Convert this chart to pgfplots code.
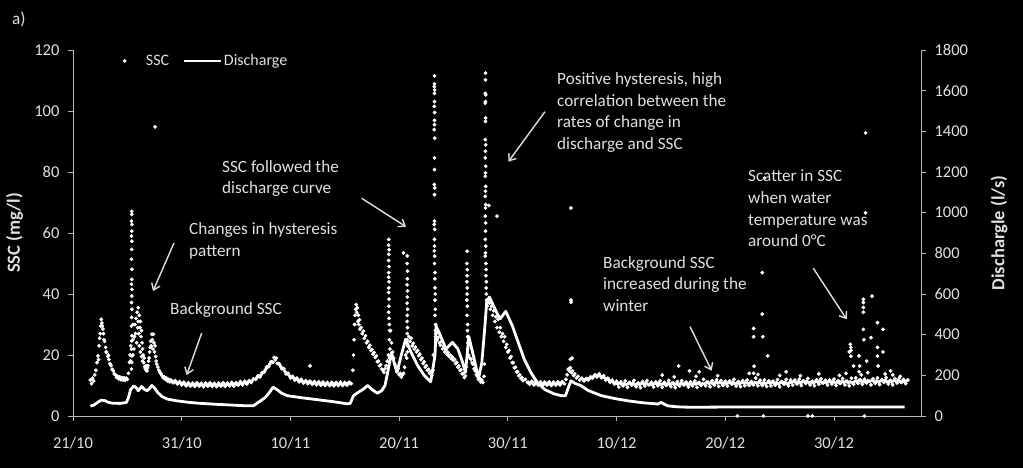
\documentclass[border=0pt]{standalone}
\usepackage{pgfplots}
\pgfplotsset{compat=1.18}
\usepackage{fontspec}
\setmainfont{Carlito}
\usetikzlibrary{arrows.meta}
\definecolor{txt}{gray}{0.88}
\definecolor{axc}{gray}{0.72}
\pgfplotsset{
 mylineleg/.style={legend image code/.code={\draw[##1] (0pt,0pt) -- (37pt,0pt);}},
 mymarkleg/.style={legend image code/.code={\fill[##1] (0pt,0pt) circle (1.7pt); \path (-1.7pt,0pt) (19pt,0pt);}},
}
\begin{document}
\begin{tikzpicture}
\fill[black] (-73pt,-52pt) rectangle (950pt,416pt);
\pgfplotsset{
 every axis/.append style={
  scale only axis, width=848pt, height=366pt, at={(0pt,0pt)}, anchor=south west,
  xmin=0, xmax=78, clip=false,
  tick label style={font=\fontsize{16.5}{18}\selectfont, text=txt},
  /pgf/number format/assume math mode=true,
  /pgf/number format/1000 sep={},
  axis line style={axc, line width=0.8pt},
  tick style={axc, line width=0.8pt},
  tick align=outside,
  major tick length=5pt,
  xticklabel shift=13pt, yticklabel shift=5pt,
  label style={font=\bfseries\fontsize{18.5}{20}\selectfont, text=txt},
 }
}
\begin{axis}[
  axis x line*=bottom, axis y line*=left,
  ymin=0, ymax=120, ytick={0,20,...,120},
  xtick={0,10,...,70}, xticklabels={21/10,31/10,10/11,20/11,30/11,10/12,20/12,30/12},
  ylabel={SSC (mg/l)}, ylabel style={at={(axis description cs:-0.069,0.5)}, anchor=center},
]
\addplot[only marks, mark=*, mark size=1.7pt, white, mark options={draw=none, fill=white}] coordinates {
(1.6,11.8)(1.7,10.6)(1.8,12.4)(1.9,11.5)(2.0,13.5)(2.1,15.0)(2.2,17.5)(2.3,19.7)(2.4,23)(2.5,27)(2.55,29.5)(2.6,31.7)(2.65,30.5)(2.7,29.5)(2.8,27)(2.9,24.5)(3.0,22.5)(3.1,21)(3.2,19.5)(3.3,18.5)(3.4,17.2)(3.5,16.5)(3.6,15.3)(3.7,14.8)(3.8,13.8)(3.9,13.5)(4.0,12.7)(4.1,13.0)(4.2,12.2)(4.3,12.8)(4.4,11.9)(4.5,12.6)(4.6,11.8)(4.7,12.5)(4.8,11.7)(4.9,12.4)(5.0,12.0)(5.1,14.0)(5.2,17.6)(5.25,20)
(2.35,18.5)(2.45,25.5)(2.75,28.5)(2.85,25)(3.05,21)(3.25,20)(3.45,16.8)
(5.4,67.1)(5.4,66.1)(5.38,63.9)(5.42,62.8)(5.4,60.6)(5.38,59.0)(5.42,57.3)(5.4,54.6)(5.38,51.4)(5.42,48.1)(5.4,44.8)(5.38,43.2)(5.42,41.5)(5.4,39.3)(5.38,37.2)(5.42,35.0)(5.4,32.3)(5.38,29.5)(5.42,26.3)(5.4,24.6)(5.38,21.9)(5.42,19.7)(5.4,17.6)(5.38,15.4)(5.3,18)(5.32,23)(5.5,20)(5.5,25)(5.52,30)
(5.6,22)(5.65,26)(5.7,30)(5.75,27)(5.8,32)(5.85,24)(5.9,34)(5.95,29)(6.0,35.5)(6.0,31)(6.05,27)(6.1,33)(6.1,23)(6.15,29)(6.2,31)(6.2,21)(6.25,26)(6.3,28)(6.3,19.5)(6.35,24)(6.4,22)(6.4,18)(6.45,20)(6.5,17.5)(6.55,19)(6.6,16.2)(6.65,15.5)(6.7,16.5)(6.75,15)(6.8,14.8)(6.85,15.8)(6.9,16.5)(6.95,18)(7.0,19)(7.05,21)(7.1,22.5)(7.15,24.5)(7.2,23)(7.25,26.8)(7.3,25)(7.35,22)(7.4,26.8)(7.45,24)(7.5,21)(7.55,23)(7.6,19.5)(7.65,18)(7.7,17)(7.8,16)(7.9,15)(8.0,14.3)(8.1,13.8)(8.2,13.2)(8.3,12.5)(8.4,12.8)(8.5,12.0)(8.6,12.4)(8.7,11.5)(8.8,12.0)(8.9,11.2)(9.0,11.8)
(7.55,94.8)
(9.2,10.9)(9.4,11.6)(9.6,10.5)(9.8,11.3)(10.0,10.2)(10.2,11.1)(10.4,9.9)(10.6,10.9)(10.8,9.8)(11.0,10.8)(11.2,9.7)(11.4,10.9)(11.6,9.8)(11.8,10.7)(12.0,9.6)(12.2,10.8)(12.4,9.8)(12.6,10.9)(12.8,9.7)(13.0,10.7)(13.2,9.6)(13.4,10.8)(13.6,9.8)(13.8,10.9)(14.0,9.7)(14.2,10.8)(14.4,9.9)(14.6,11.0)(14.8,9.8)(15.0,10.9)(15.2,10.1)(15.4,11.3)(15.6,10.2)(15.8,11.4)(16.0,10.5)(16.2,11.6)(16.4,11.0)(16.6,12.2)
(9.1,11.4)(9.3,11.2)(9.5,11.0)(9.7,10.9)(9.9,10.7)(10.1,10.6)(10.3,10.5)(10.5,10.3)(10.7,10.4)(10.9,10.2)(11.1,10.3)(11.3,10.2)(11.5,10.4)(11.7,10.2)(11.9,10.3)(12.1,10.1)(12.3,10.3)(12.5,10.2)(12.7,10.4)(12.9,10.2)(13.1,10.3)(13.3,10.1)(13.5,10.3)(13.7,10.2)(13.9,10.4)(14.1,10.2)(14.3,10.3)(14.5,10.4)(14.7,10.3)(14.9,10.5)(15.1,10.4)(15.3,10.6)(15.5,10.7)(15.7,10.8)(15.9,10.9)(16.1,11.0)(16.3,11.3)(16.5,11.6)
(16.8,12.0)(17.0,13.2)(17.2,12.8)(17.4,14.2)(17.6,14.5)(17.8,16.0)(18.0,16.2)(18.2,17.8)(18.4,17.6)(18.5,19.2)(18.6,18.4)(18.7,19.0)(18.8,17.2)(19.0,17.0)(19.2,15.5)(19.4,15.5)(19.6,13.8)(19.8,14.0)(20.0,12.5)(20.2,13.0)(20.4,11.8)(20.6,12.4)(20.8,11.2)(21.0,12.0)(21.2,10.8)(21.4,11.6)(21.6,10.6)(21.8,11.4)(22.0,10.4)(22.2,11.3)(22.4,10.2)(22.6,11.2)(22.8,10.1)(23.0,11.1)(23.2,10.0)(23.4,11.0)(23.6,10.0)(23.8,11.0)(24.0,9.9)(24.2,11.0)(24.4,10.0)(24.6,11.1)(24.8,10.0)(25.0,11.0)(25.2,10.1)(25.4,11.1)(25.6,10.6)
(16.9,12.6)(17.1,13.0)(17.3,13.5)(17.5,14.3)(17.7,15.2)(17.9,16.1)(18.1,17.0)(18.3,17.8)(18.9,17.2)(19.1,16.2)(19.3,15.5)(19.5,14.6)(19.7,13.9)(19.9,13.2)(20.1,12.7)(20.3,12.4)(20.5,12.1)(20.7,11.8)
(20.9,11.7)(21.1,11.4)(21.3,11.2)(21.5,11.1)(21.7,11.0)(21.9,10.9)(22.1,10.8)(22.3,10.7)(22.5,10.7)(22.7,10.6)(22.9,10.6)(23.1,10.5)(23.3,10.5)(23.5,10.5)(23.7,10.4)(23.9,10.5)(24.1,10.4)(24.3,10.5)(24.5,10.6)(24.7,10.5)(24.9,10.5)(25.1,10.6)(25.3,10.6)(25.5,10.7)
(21.8,16.4)
(25.75,15)(25.8,20)(25.85,25)(25.9,30)(25.95,33)(26.0,35)(26.05,36.5)(26.1,34)(26.15,35.5)(26.2,31)(26.25,33)(26.3,30)(26.35,31.5)(26.4,28.5)(26.5,29)(26.6,27)(26.7,27.8)(26.8,25.5)(26.9,26.3)(27.0,24)(27.1,24.5)(27.2,22.5)(27.3,23.2)(27.4,21.5)(27.5,21.8)(27.6,20.3)(27.7,20.8)(27.8,19.2)(27.9,19.7)(28.0,17.8)(28.1,18.0)(28.2,16.5)(28.3,16.8)(28.4,15.4)(28.5,15.0)(28.6,14.3)(28.7,15.5)(28.8,16.5)(28.9,18)(29.0,20)
(29.05,57.9)(29.03,56)(29.07,54.5)(29.05,53)(29.03,51)(29.07,49)(29.05,47)(29.03,45.5)(29.07,44)(29.05,42)(29.03,40.5)(29.07,38.3)(29.05,36)(29.03,34)(29.07,32)(29.1,30)(29.12,28)(29.1,25)(29.15,22)(29.1,19)
(29.2,28)(29.3,24)(29.4,21)(29.5,19)(29.6,17)(29.7,16)(29.8,14.5)(29.9,15.5)(30.0,13.5)(30.1,14)(30.2,12.8)(30.3,13.5)(30.4,14)(30.5,16)(30.6,20)
(30.4,53.5)
(30.75,52.5)(30.73,50)(30.77,47.5)(30.75,45)(30.73,43)(30.77,41)(30.75,39)(30.73,37)(30.77,35)(30.75,33)(30.73,31)(30.77,29)(30.75,27)(30.73,25)(30.77,23)(30.75,21)(30.7,19)
(30.9,26)(31.0,24.5)(31.1,25.5)(31.2,23)(31.3,23.8)(31.4,22)(31.5,22.6)(31.6,21)(31.7,21.5)(31.8,19.8)(31.9,20.3)(32.0,18.5)(32.1,19)(32.2,17.2)(32.3,17.8)(32.4,16)(32.5,16.5)(32.6,15)(32.7,15.3)(32.8,14)(32.9,14.4)(33.0,13.2)(33.1,15)(33.15,20)
(33.25,111.5)(33.25,108.9)(33.23,108.0)(33.27,106.9)(33.25,105.8)(33.25,103.1)(33.23,101.5)(33.27,99.5)(33.25,96.9)(33.25,95.5)(33.23,93.9)(33.27,91.1)(33.25,84.6)(33.25,80.8)(33.23,75.9)(33.27,74.8)(33.25,72.6)(33.25,63.9)(33.23,62.8)(33.27,61.2)(33.25,57.9)(33.25,55.7)(33.23,54.1)(33.27,52.4)(33.25,50)(33.3,47)(33.28,45)(33.3,42)(33.32,40)(33.3,38)(33.32,35)(33.3,33)(33.35,30)(33.33,28)(33.35,26)
(33.4,27)(33.5,25)(33.6,25.8)(33.7,24)(33.8,23.2)(33.9,24.5)(34.0,22)(34.1,22.8)(34.2,21)(34.3,21.6)(34.4,20.2)(34.5,20.8)(34.6,19.5)(34.7,20)(34.8,18.8)(34.9,19.3)(35.0,18.2)(35.1,18.6)(35.2,17.2)(35.3,17.6)(35.4,16)(35.5,16.4)(35.6,15)(35.7,15.2)(35.8,13.8)(35.9,14)(36.0,12.6)(36.1,13.2)(36.15,16)
(36.25,54)(36.23,50)(36.27,48)(36.25,46)(36.23,44)(36.27,42)(36.25,40)(36.23,38)(36.27,36)(36.25,33)(36.3,30)(36.28,28)(36.3,26)(36.32,24)(36.3,22)(36.35,20)
(36.4,20)(36.5,19)(36.6,18.6)(36.7,17.5)(36.8,17)(36.9,15.5)(37.0,14.8)(37.1,13.5)(37.2,13)(37.3,12)(37.4,12.3)(37.5,11.2)(37.6,11.8)(37.7,11)(37.8,13)(37.85,17)
(37.94,112.4)(37.94,110.2)(37.92,105.8)(37.96,105.3)(37.94,103.1)(37.92,102.6)(37.96,97.7)(37.94,96.6)(37.92,90.6)(37.96,88.9)(37.94,86.8)(37.92,84.6)(37.96,81.9)(37.94,79.7)(37.92,78.6)(37.96,75.3)(37.94,73.7)(37.92,72.0)(37.96,69.3)(37.94,68.2)(37.92,65.5)(37.96,63.3)(37.94,60.6)(37.92,57.9)(37.96,55.7)(37.94,53.5)(37.92,52.4)(37.98,50)(38.0,48)(37.98,46)(38.02,44)(38.0,42)(38.02,40)(38.04,38)
(38.25,69)(39.0,65.5)
(38.1,36)(38.2,38)(38.3,37)(38.4,35)(38.5,36)(38.6,33)(38.7,34.5)(38.8,31)(38.9,32.5)(39.0,29)(39.1,31.7)(39.2,27.5)(39.3,29)(39.4,26)(39.5,27)(39.6,24.5)(39.7,26)(39.8,22.5)(39.9,23.5)(40.0,21)(40.1,21.5)(40.2,19)(40.3,19.5)(40.4,17.5)(40.5,17.5)(40.6,15.8)(40.7,16)(40.8,14.5)(40.9,14.5)(41.0,13.2)(41.1,13.5)(41.2,12.3)(41.3,12.6)(41.4,11.6)(41.6,12.0)(41.8,11.0)
(42.0,10.4)(42.2,11.4)(42.4,10.2)(42.6,11.3)(42.8,10.1)(43.0,11.2)(43.2,10.0)(43.4,11.1)(43.6,10.1)(43.8,11.2)(44.0,10.0)(44.2,11.1)(44.4,10.1)(44.6,11.2)(44.8,10.2)(45.0,11.3)(45.2,10.6)(45.35,12)(45.45,13.5)(45.55,15.4)(45.65,14.8)(45.75,15.8)(45.85,14.2)(45.95,14.8)(46.05,13.3)(46.15,13.8)(46.3,12.5)(46.45,13.0)(46.6,11.8)(46.8,12.4)(47.0,11.5)(47.2,12.3)(47.4,11.8)(47.6,12.8)(47.8,12.5)(48.0,13.5)(48.2,12.8)(48.4,13.8)(48.6,12.5)(48.8,13.2)(49.0,11.8)(49.2,12.4)(49.4,11.0)(49.6,11.8)(49.8,10.5)(50.0,11.4)
(41.9,11.0)(42.1,10.9)(42.3,10.8)(42.5,10.7)(42.7,10.7)(42.9,10.6)(43.1,10.6)(43.3,10.6)(43.5,10.6)(43.7,10.6)(43.9,10.6)(44.1,10.6)(44.3,10.6)(44.5,10.6)(44.7,10.7)(44.9,10.7)(45.1,10.8)
(46.9,12.0)(47.1,11.9)(47.3,12.1)(47.5,12.3)(47.7,12.6)(47.9,13.0)(48.1,13.2)(48.3,13.3)(48.5,13.1)(48.7,12.8)(48.9,12.5)(49.1,12.1)(49.3,11.7)(49.5,11.4)(49.7,11.1)(49.9,10.8)
(45.8,68.2)(45.8,38)(45.82,37.3)(45.75,18.6)(45.9,19)
(50.2,9.5)(50.4,11.2)(50.6,9.9)(50.8,11.5)(51.0,9.4)(51.2,11.0)(51.4,10.1)(51.6,11.7)(51.8,9.6)(52.0,10.8)(52.2,9.3)(52.4,11.3)(52.6,9.8)(52.8,11.6)(53.0,10.2)(53.2,11.1)(53.4,9.5)(53.6,11.2)(53.8,9.9)(54.0,11.5)(54.2,9.4)(54.4,11.0)(54.6,10.1)(54.8,11.7)(55.0,9.6)(55.2,10.8)(55.4,9.3)(55.6,11.3)(55.8,9.8)(56.0,11.6)(56.2,10.2)(56.4,11.1)(56.6,9.5)(56.8,11.2)(57.0,9.9)(57.2,11.5)(57.4,9.4)(57.6,11.0)(57.8,10.1)(58.0,12.0)
(58.2,9.9)(58.4,11.1)(58.6,9.6)(58.8,11.6)(59.0,10.1)(59.2,11.9)(59.4,9.7)(59.6,11.6)(59.8,10.0)(60.0,11.4)(60.2,9.8)(60.4,11.5)(60.6,10.4)(60.8,12.0)(61.0,9.8)(61.2,11.3)(61.4,9.6)(61.6,11.6)(61.8,9.9)(62.0,11.8)(62.2,10.0)(62.4,11.3)(62.6,10.2)(62.8,12.4)(63.0,9.9)(63.2,11.7)(63.4,10.0)(63.6,11.8)(63.8,9.7)(64.0,11.5)(64.2,9.9)(64.4,11.4)(64.6,10.1)(64.8,11.9)(65.0,9.6)(65.2,11.3)(65.4,10.4)(65.6,12.0)(65.8,9.9)
(66.0,11.8)(66.2,10.1)(66.4,11.8)(66.6,10.5)(66.8,12.1)(67.0,10.0)(67.2,11.6)(67.4,10.7)(67.6,12.3)(67.8,10.2)(68.0,11.4)(68.2,9.9)(68.4,11.9)(68.6,10.4)(68.8,12.2)(69.0,10.8)(69.2,11.7)(69.4,10.1)(69.6,11.8)(69.8,10.5)(70.0,12.1)(70.2,10.0)(70.4,11.6)(70.6,10.7)(70.8,12.3)(71.0,10.2)(71.2,11.4)(71.4,9.9)(71.6,12.4)(71.8,10.4)
(72.0,12.5)(72.2,10.7)(72.4,11.9)(72.6,10.4)(72.8,12.1)(73.0,10.8)(73.2,11.4)(73.4,10.2)(73.6,12.2)(73.8,10.7)(74.0,12.5)(74.2,10.3)(74.4,11.9)(74.6,11.0)(74.8,12.6)(75.0,10.5)(75.2,11.7)(75.4,10.2)(75.6,12.3)(75.8,10.8)(76.0,12.4)(76.2,11.0)(76.4,12.0)(76.6,10.6)(76.8,11.8)
(50.1,10.5)(50.3,10.8)(50.5,10.3)(50.7,10.6)(50.9,10.2)(51.1,10.7)(51.3,10.5)(51.5,10.8)(51.7,10.3)(51.9,10.6)(52.1,10.2)(52.3,10.7)(52.5,10.5)(52.7,10.8)(52.9,10.3)(53.1,10.6)(53.3,10.2)(53.5,10.7)(53.7,10.5)(53.9,10.8)(54.1,10.3)(54.3,10.6)(54.5,10.2)(54.7,10.7)(54.9,10.5)(55.1,10.8)(55.3,10.3)(55.5,10.6)(55.7,10.2)(55.9,10.7)(56.1,10.5)(56.3,10.8)(56.5,10.3)(56.7,10.6)(56.9,10.2)(57.1,10.7)(57.3,10.5)(57.5,10.8)(57.7,10.3)(57.9,10.6)
(58.1,10.5)(58.3,11.1)(58.5,10.6)(58.7,10.9)(58.9,10.5)(59.1,11.0)(59.3,10.8)(59.5,11.1)(59.7,10.6)(59.9,10.9)(60.1,10.5)(60.3,11.0)(60.5,10.8)(60.7,11.1)(60.9,10.6)(61.1,10.9)(61.3,10.5)(61.5,11.0)(61.7,10.8)(61.9,11.1)(62.1,10.6)(62.3,10.9)(62.5,10.5)(62.7,11.0)(62.9,10.8)(63.1,11.1)(63.3,10.6)(63.5,10.9)(63.7,10.5)(63.9,11.0)(64.1,10.8)(64.3,11.1)(64.5,10.6)(64.7,10.9)(64.9,10.5)(65.1,11.0)(65.3,10.8)(65.5,11.1)(65.7,10.6)(65.9,10.9)
(66.1,11.1)(66.3,11.4)(66.5,10.9)(66.7,11.2)(66.9,10.8)(67.1,11.3)(67.3,11.1)(67.5,11.4)(67.7,10.9)(67.9,11.2)(68.1,10.8)(68.3,11.3)(68.5,11.1)(68.7,11.4)(68.9,10.9)(69.1,11.2)(69.3,10.8)(69.5,11.3)(69.7,11.1)(69.9,11.4)(70.1,10.9)(70.3,11.2)(70.5,10.8)(70.7,11.3)(70.9,11.1)(71.1,11.4)(71.3,10.9)(71.5,11.2)(71.7,10.8)(71.9,11.3)
(72.1,11.4)(72.3,11.7)(72.5,11.2)(72.7,11.5)(72.9,11.1)(73.1,11.6)(73.3,11.4)(73.5,11.7)(73.7,11.2)(73.9,11.5)(74.1,11.1)(74.3,11.6)(74.5,11.4)(74.7,11.7)(74.9,11.2)(75.1,11.5)(75.3,11.1)(75.5,11.6)(75.7,11.4)(75.9,11.7)(76.1,11.2)(76.3,11.5)(76.5,11.1)(76.7,11.6)
(59.3,13.2)(62.2,14)(63.0,13.6)(66.9,13.2)(68.6,13.8)(70.5,13.3)(71.1,14)(72.3,14.5)(72.5,13.5)(73.1,14.2)(74.7,13.8)(75.4,13.5)(76.1,13)(57.3,13)(55.3,12.8)(65.0,13.3)
(54.2,13.4)(55.7,16.4)(56.7,14.8)(57.6,14.5)(65.6,14.5)(61.1,0)(62.6,28.7)(62.6,26)(62.65,16.3)(62.6,14)(63.4,47)(63.4,33.4)(63.45,26)(63.9,19.7)(63.6,78)(63.5,0)(67.6,0)(68.0,0)(72.8,0)(72.9,92.8)(72.9,66.6)
(71.5,23.5)(71.55,22.5)(71.55,21.5)(71.55,19.6)(71.8,16.4)(72.3,19.7)(72.35,16.4)(72.7,38.3)(72.7,37.2)(72.7,35.6)(72.7,34.0)(72.7,28.4)(72.75,25)(73.0,18)(73.4,25.7)(73.5,39.3)(74.0,30.6)(74.0,22.5)(74.0,19.6)(74.05,16.4)(74.5,28.4)(74.5,21)(75.2,14.8)(71.4,21)
};
\end{axis}
\begin{axis}[
  axis x line=none, axis y line*=right,
  ymin=0, ymax=1800, ytick={0,200,...,1800},
  ylabel={Dischargle (l/s)}, ylabel style={at={(axis description cs:1.092,0.5)}, anchor=center},
  legend style={draw=none, fill=none, text=txt, font=\fontsize{16}{18}\selectfont,
    at={(axis description cs:0.055,0.97)}, anchor=west, legend columns=2,
    /tikz/every even column/.append style={column sep=11pt}},
]
\addlegendimage{white, mymarkleg}
\addlegendentry{SSC}
\addplot[white, line width=2.8pt, line join=round, mylineleg] coordinates {
(1.6,49)(1.9,53)(2.3,68)(2.6,78)(2.9,76)(3.2,68)(3.6,63)(4.3,62)(4.9,66)(5.1,90)(5.3,130)(5.6,148)(5.8,140)(6.0,124)(6.3,145)(6.6,130)(6.8,124)(7.0,133)(7.25,150)(7.5,138)(7.8,115)(8.2,95)(8.7,83)(9.5,75)(10.5,68)(11.5,63)(13,58)(14.5,54)(16,50)(16.6,50)(16.9,62)(17.3,76)(17.7,92)(18.1,118)(18.4,142)(18.7,132)(19.2,112)(19.7,100)(21,90)(22.5,80)(24,70)(25.2,60)(25.5,62)(25.8,100)(26.2,115)(26.7,132)(27.1,150)(27.5,130)(28.0,112)(28.4,125)(28.7,150)(29.0,230)(29.3,312)(29.6,250)(29.8,215)(30.2,300)(30.6,378)(31.1,312)(31.7,248)(32.3,200)(32.9,168)(33.1,230)(33.3,300)(33.4,443)(33.8,395)(34.3,330)(34.9,362)(35.4,330)(35.8,270)(36.1,215)(36.25,300)(36.4,392)(36.9,280)(37.3,185)(37.6,260)(37.9,450)(38.05,560)(38.3,585)(38.7,540)(39.0,505)(39.3,478)(39.8,515)(40.4,445)(40.9,370)(41.5,280)(42.1,215)(42.7,165)(43.4,130)(44.2,110)(44.9,100)(45.3,100)(45.6,145)(45.8,173)(46.2,160)(46.7,150)(47.4,125)(48.6,100)(49.9,85)(51.0,75)(52.4,65)(53.8,59)(54.1,67)(54.4,58)(54.7,50)(55.4,46)(56,44)(57,43)(60,44)(76.5,44)
};
\addlegendentry{Discharge}
\end{axis}
\begin{scope}[every node/.style={text=txt, font=\fontsize{17.2}{19}\selectfont, inner sep=0pt, anchor=base west}]
\node at (-61pt,391pt) {a)};
\node at (116pt,181pt) {Changes in hysteresis};
\node at (116pt,159pt) {pattern};
\node at (97pt,101pt) {Background SSC};
\node at (149pt,243.3pt) {SSC followed the};
\node at (149pt,222pt) {discharge curve};
\node at (484pt,331pt) {Positive hysteresis, high};
\node at (484pt,309.5pt) {correlation between the};
\node at (484pt,288pt) {rates of change in};
\node at (484pt,266pt) {discharge and SSC};
\node at (675pt,234.3pt) {Scatter in SSC};
\node at (675pt,212.7pt) {when water};
\node at (675pt,190pt) {temperature was};
\node at (675pt,169.3pt) {around 0°C};
\node at (530pt,147.7pt) {Background SSC};
\node at (530pt,126.7pt) {increased during the};
\node at (530pt,104.3pt) {winter};
\end{scope}
\begin{scope}[txt, line width=1.4pt, -{Straight Barb[length=6pt,width=9pt]}]
\draw (101pt,173pt) -- (80pt,125pt);
\draw (128.7pt,83pt) -- (113.7pt,41pt);
\draw (288.7pt,217.7pt) -- (333pt,189.3pt);
\draw (472pt,304.3pt) -- (435.3pt,254.3pt);
\draw (740.3pt,147.7pt) -- (773.7pt,96.7pt);
\draw (617pt,89.3pt) -- (638.7pt,45.3pt);
\end{scope}
\end{tikzpicture}
\end{document}
